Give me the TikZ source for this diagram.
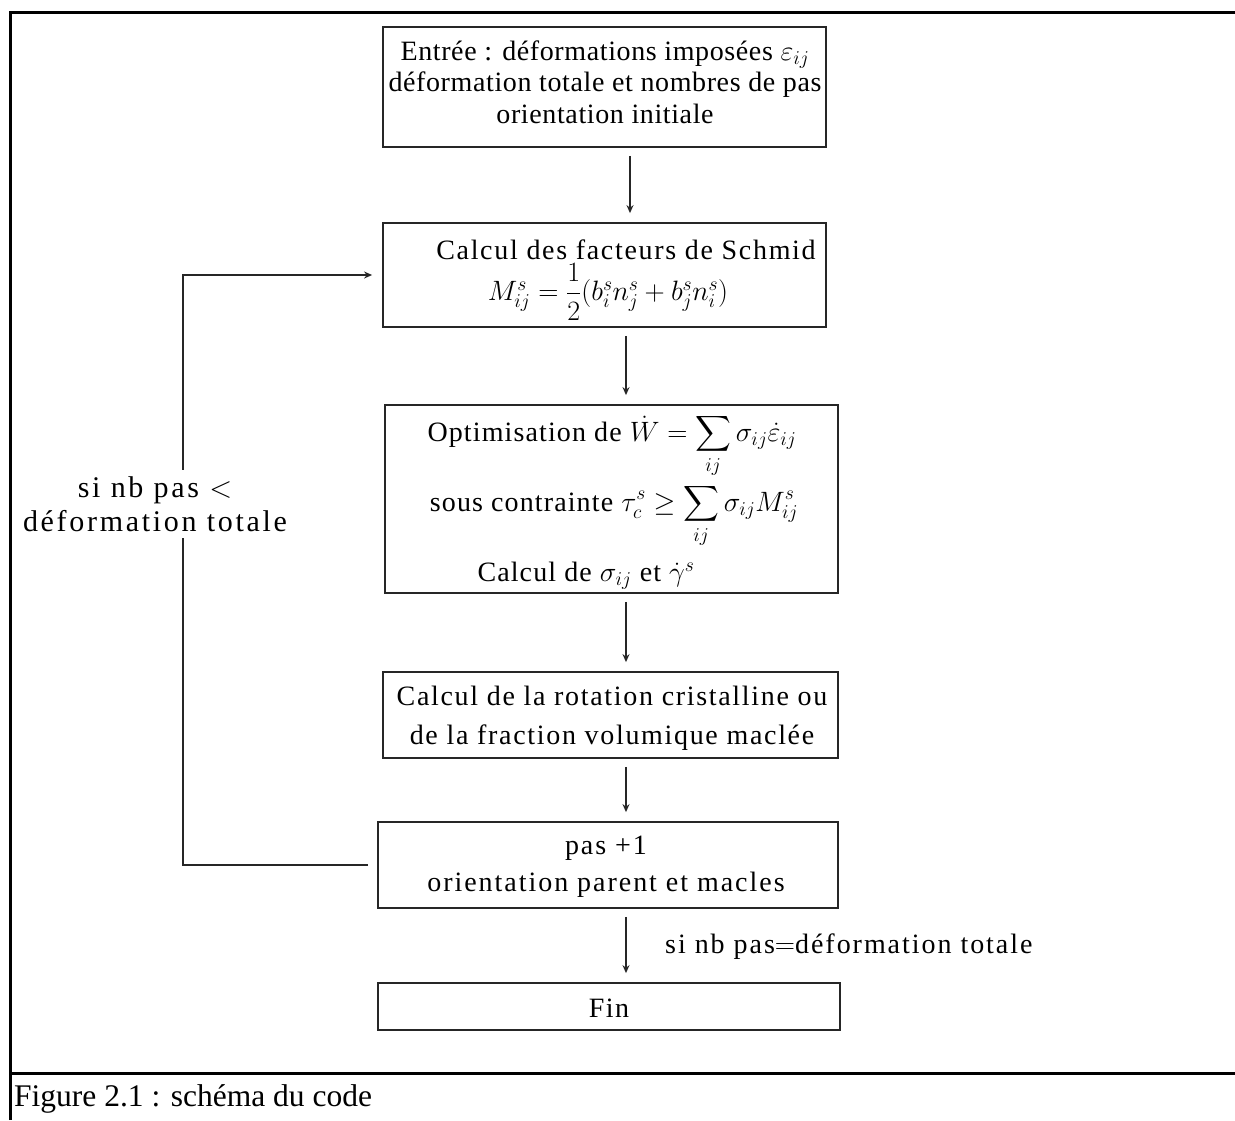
\RequirePackage{fix-cm}
\documentclass[tikz,border=0pt]{standalone}
\usepackage{amsmath}
\usepackage{fontspec}
\setmainfont{Liberation Serif}
\usetikzlibrary{arrows.meta,calc}
\tikzset{
  x=1pt, y=-1pt,
  txt/.style={font=\fontsize{28}{36}\selectfont\addfontfeatures{LetterSpace=#1}, inner sep=0pt, align=center},
  txt/.default=5,
  box/.style={draw=black!85, line width=1.8pt, inner sep=0pt},
  frame/.style={draw=black, line width=3pt},
  arr/.style={draw=black!85, line width=1.3pt, -{Stealth[length=8pt,width=7pt]}, shorten <=8pt, shorten >=9pt},
  loopline/.style={draw=black!85, line width=1.8pt},
}
\begin{document}
\begin{tikzpicture}
\useasboundingbox (0,0) rectangle (1235,1120);
% frame
\coordinate (ftl) at (10,12);
\coordinate (ftr) at (1235,12);
\coordinate (fbl) at (10,1120);
\coordinate (fcl) at (10,1073);
\coordinate (fcr) at (1235,1073);
\draw[frame] (fbl) -- (ftl) -- (ftr);
\draw[frame] (fcl) -- (fcr);
\node[anchor=west, font=\fontsize{31.5}{36}\selectfont, inner sep=0pt] (cap) at (14,1099) {Figure 2.1 : schéma du code};

% boxes
\node[box, minimum width=443, minimum height=120] (b1) at (604.5,87) {};
\node[box, minimum width=443, minimum height=104] (b2) at (604.5,275) {};
\node[box, minimum width=453, minimum height=188] (b3) at (611.5,499) {};
\node[box, minimum width=455, minimum height=86] (b4) at (610.5,715) {};
\node[box, minimum width=460, minimum height=86] (b5) at (608,865) {};
\node[box, minimum width=462, minimum height=47] (b6) at (609,1006.5) {};

% texts
\node[txt, font=\fontsize{28}{31.5}\selectfont\addfontfeatures{LetterSpace=2.2}] (t1) at (605,82) {Entrée : déformations imposées $\varepsilon_{ij}$\\déformation totale et nombres de pas\\orientation initiale};
\node[txt=6] (t2a) at (626,250) {Calcul des facteurs de Schmid};
\node[txt] (t2b) at (608,292) {$M^s_{ij}=\dfrac{1}{2}(b^s_i n^s_j+b^s_j n^s_i)$};
\node[txt=4] (t3a) at (612,446) {Optimisation de $\displaystyle\dot W=\sum_{ij}\sigma_{ij}\dot\varepsilon_{ij}$};
\node[txt=4] (t3b) at (614,516) {sous contrainte $\displaystyle\tau^s_c\geq\sum_{ij}\sigma_{ij}M^s_{ij}$};
\node[txt=4] (t3c) at (586,576) {Calcul de $\sigma_{ij}$ et $\dot\gamma^s$};
\node[txt=6, font=\fontsize{28}{39}\selectfont\addfontfeatures{LetterSpace=6}] (t4) at (612,718) {Calcul de la rotation cristalline ou\\de la fraction volumique maclée};
\node[txt=7, font=\fontsize{28}{37}\selectfont\addfontfeatures{LetterSpace=7}] (t5) at (606,867) {pas +1\\orientation parent et macles};
\node[txt] (t6) at (609,1008) {Fin};

% vertical arrows
\coordinate (ax1) at (630,0);
\coordinate (ax2) at (626,0);
\draw[arr] (b1.south -| ax1) -- (b2.north -| ax1);
\draw[arr] (b2.south -| ax2) -- (b3.north -| ax2);
\draw[arr] (b3.south -| ax2) -- (b4.north -| ax2);
\draw[arr] (b4.south -| ax2) -- (b5.north -| ax2);
\draw[arr] (b5.south -| ax2) -- (b6.north -| ax2);
\node[txt=7, anchor=west] (lbl2) at (665,947) {si nb pas$=$déformation totale};

% loop back
\coordinate (lm) at (183,504);
\draw[loopline, shorten <=9pt] (b5.west) -| (lm);
\draw[arr, line width=1.8pt, shorten <=0pt, shorten >=10pt] (lm) |- (b2.west);
\node[txt, font=\fontsize{30}{34}\selectfont\addfontfeatures{LetterSpace=9}, fill=white, inner sep=6pt] (lbl1) at (155,504) {si nb pas $<$\\déformation totale};
\end{tikzpicture}
\end{document}
